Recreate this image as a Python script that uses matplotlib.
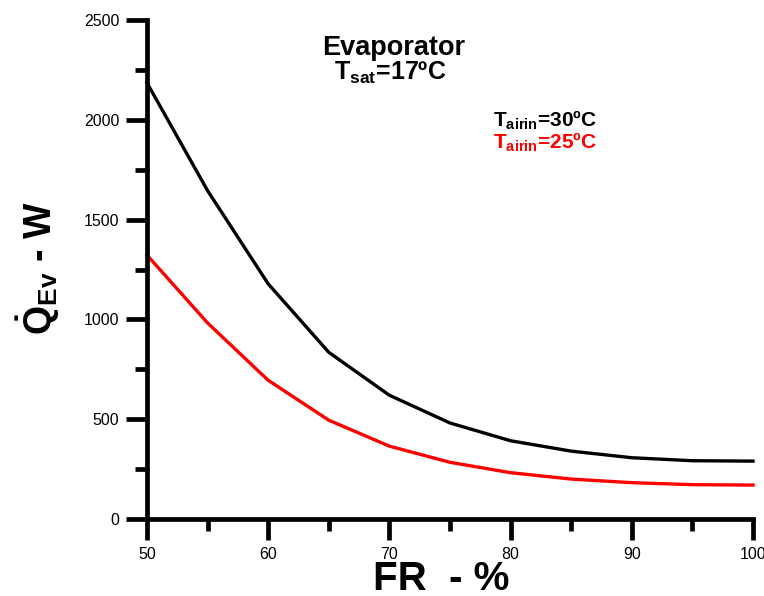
import matplotlib
matplotlib.use("Agg")
import matplotlib.pyplot as plt
from matplotlib.ticker import MultipleLocator

# flow rate (%) and evaporator heat load (W)
fr = [50, 55, 60, 65, 70, 75, 80, 85, 90, 95, 100]
q_air30 = [2185, 1645, 1178, 835, 620, 481, 392, 340, 307, 292, 290]
q_air25 = [1322, 982, 695, 495, 365, 284, 232, 200, 182, 172, 170]

plt.rcParams["font.family"] = ["Liberation Sans", "DejaVu Sans"]
plt.rcParams["mathtext.fontset"] = "custom"
plt.rcParams["mathtext.rm"] = "Liberation Sans:bold"
plt.rcParams["mathtext.bf"] = "Liberation Sans:bold"
plt.rcParams["mathtext.it"] = "Liberation Sans:bold"

fig = plt.figure(figsize=(7.64, 5.96), dpi=100)
ax = fig.add_axes([147 / 764, 77 / 596, 606 / 764, 499 / 596])

ax.plot(fr, q_air30, color="black", lw=2.4, clip_on=False)
ax.plot(fr, q_air25, color="#ff0000", lw=2.4, clip_on=False)

ax.set_xlim(50, 100)
ax.set_ylim(0, 2500)
ax.xaxis.set_major_locator(MultipleLocator(10))
ax.xaxis.set_minor_locator(MultipleLocator(5))
ax.yaxis.set_major_locator(MultipleLocator(500))
ax.yaxis.set_minor_locator(MultipleLocator(250))
for s in ("top", "right"):
    ax.spines[s].set_visible(False)
for s in ("left", "bottom"):
    ax.spines[s].set_linewidth(3.4)
ax.tick_params(which="major", direction="out", length=15, width=3.4, labelsize=11.5, pad=5)
ax.tick_params(which="minor", direction="out", length=8.5, width=3.4)

ax.set_xlabel("FR  - %", fontsize=29, fontweight="bold")
ax.xaxis.set_label_coords(0.486, -0.083)
ax.set_ylabel(r"$\dot{Q}_{\mathrm{Ev}}$ - W", fontsize=27, fontweight="bold")
ax.yaxis.set_label_coords(-0.14, 0.503)

ax.text(0.4066, 0.930, "Evaporator", transform=ax.transAxes, ha="center", va="baseline",
        fontsize=19.5, fontweight="bold")
ax.text(0.401, 0.880, r"T$_{\mathrm{sat}}$=17ºC", transform=ax.transAxes, ha="center",
        va="baseline", fontsize=18, fontweight="bold")
ax.text(0.571, 0.786, r"T$_{\mathrm{airin}}$=30ºC", transform=ax.transAxes, ha="left",
        va="baseline", fontsize=15, fontweight="bold", color="black")
ax.text(0.571, 0.743, r"T$_{\mathrm{airin}}$=25ºC", transform=ax.transAxes, ha="left",
        va="baseline", fontsize=15, fontweight="bold", color="#ff0000")

fig.savefig("out.png", dpi=100)
